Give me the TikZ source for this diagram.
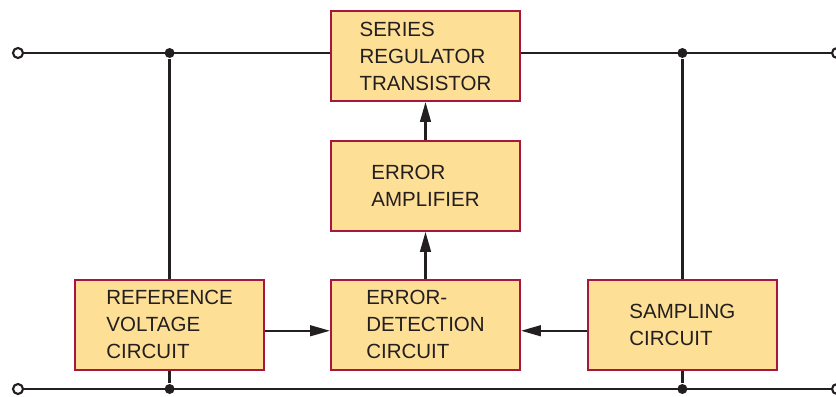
\documentclass[tikz,border=0pt]{standalone}
\usepackage{fontspec}
\setmainfont{Liberation Sans}
\usetikzlibrary{positioning,arrows.meta}
\definecolor{boxfill}{HTML}{FDDF96}
\definecolor{boxline}{HTML}{A6163F}
\definecolor{wire}{HTML}{231F20}
\tikzset{
	blockA/.style={
		draw=boxline, fill=boxfill, line width=1.6pt,
		minimum width=5.67cm, minimum height=2.70cm, inner sep=0pt,
		align=left, text=wire,
		font={\fontsize{17.5}{23}\selectfont}
	},
	dotB/.style={fill=wire, circle, inner sep=0pt, minimum size=0.3cm},
	termC/.style={draw=wire, fill=white, circle, line width=1.8pt, inner sep=0pt, minimum size=0.3cm},
	>={Triangle[length=0.6cm,width=0.32cm]},
}

\begin{document}
\begin{tikzpicture}[
x=0.03cm, y=-0.03cm, line width=2pt, draw=wire
]
\useasboundingbox (0,0) rectangle (836,397);
\node[blockA] (srt) at (425.5,56) {SERIES\\REGULATOR\\TRANSISTOR};
\node[blockA, below=1.14cm of srt] (amp) {ERROR\\AMPLIFIER};
\node[blockA, below=1.41cm of amp] (det) {ERROR-\\DETECTION\\CIRCUIT};
\node[blockA, left=1.95cm of det] (ref) {REFERENCE\\VOLTAGE\\CIRCUIT};
\node[blockA, right=1.98cm of det] (smp) {SAMPLING\\CIRCUIT};
\coordinate (inT) at (18,53); \coordinate (outT) at (837,53);
\coordinate (inB) at (18,389); \coordinate (outB) at (837,389);
% rails
\draw (inT) -- (inT -| srt.west);
\draw (srt.east |- outT) -- (outT);
\draw (inB) -- (outB);
\node[dotB] (jTL) at (inT -| ref) {}; \node[dotB] (jTR) at (outT -| smp) {};
\node[dotB] (jBL) at (inB -| ref) {}; \node[dotB] (jBR) at (outB -| smp) {};
\draw (jTL) -- (ref.north); \draw (ref.south) -- (jBL);
\draw (jTR) -- (smp.north); \draw (smp.south) -- (jBR);
% signal path
\draw[->] (amp.north) -- (srt.south);
\draw[->] (det.north) -- (amp.south);
\draw[->] ([yshift=-0.18cm]ref.east) -- ([yshift=-0.18cm]det.west);
\draw[->] ([yshift=-0.18cm]smp.west) -- ([yshift=-0.18cm]det.east);
\node[termC] (tIT) at (inT) {}; \node[termC] (tOT) at (outT) {};
\node[termC] (tIB) at (inB) {}; \node[termC] (tOB) at (outB) {};
\end{tikzpicture}
\end{document}
